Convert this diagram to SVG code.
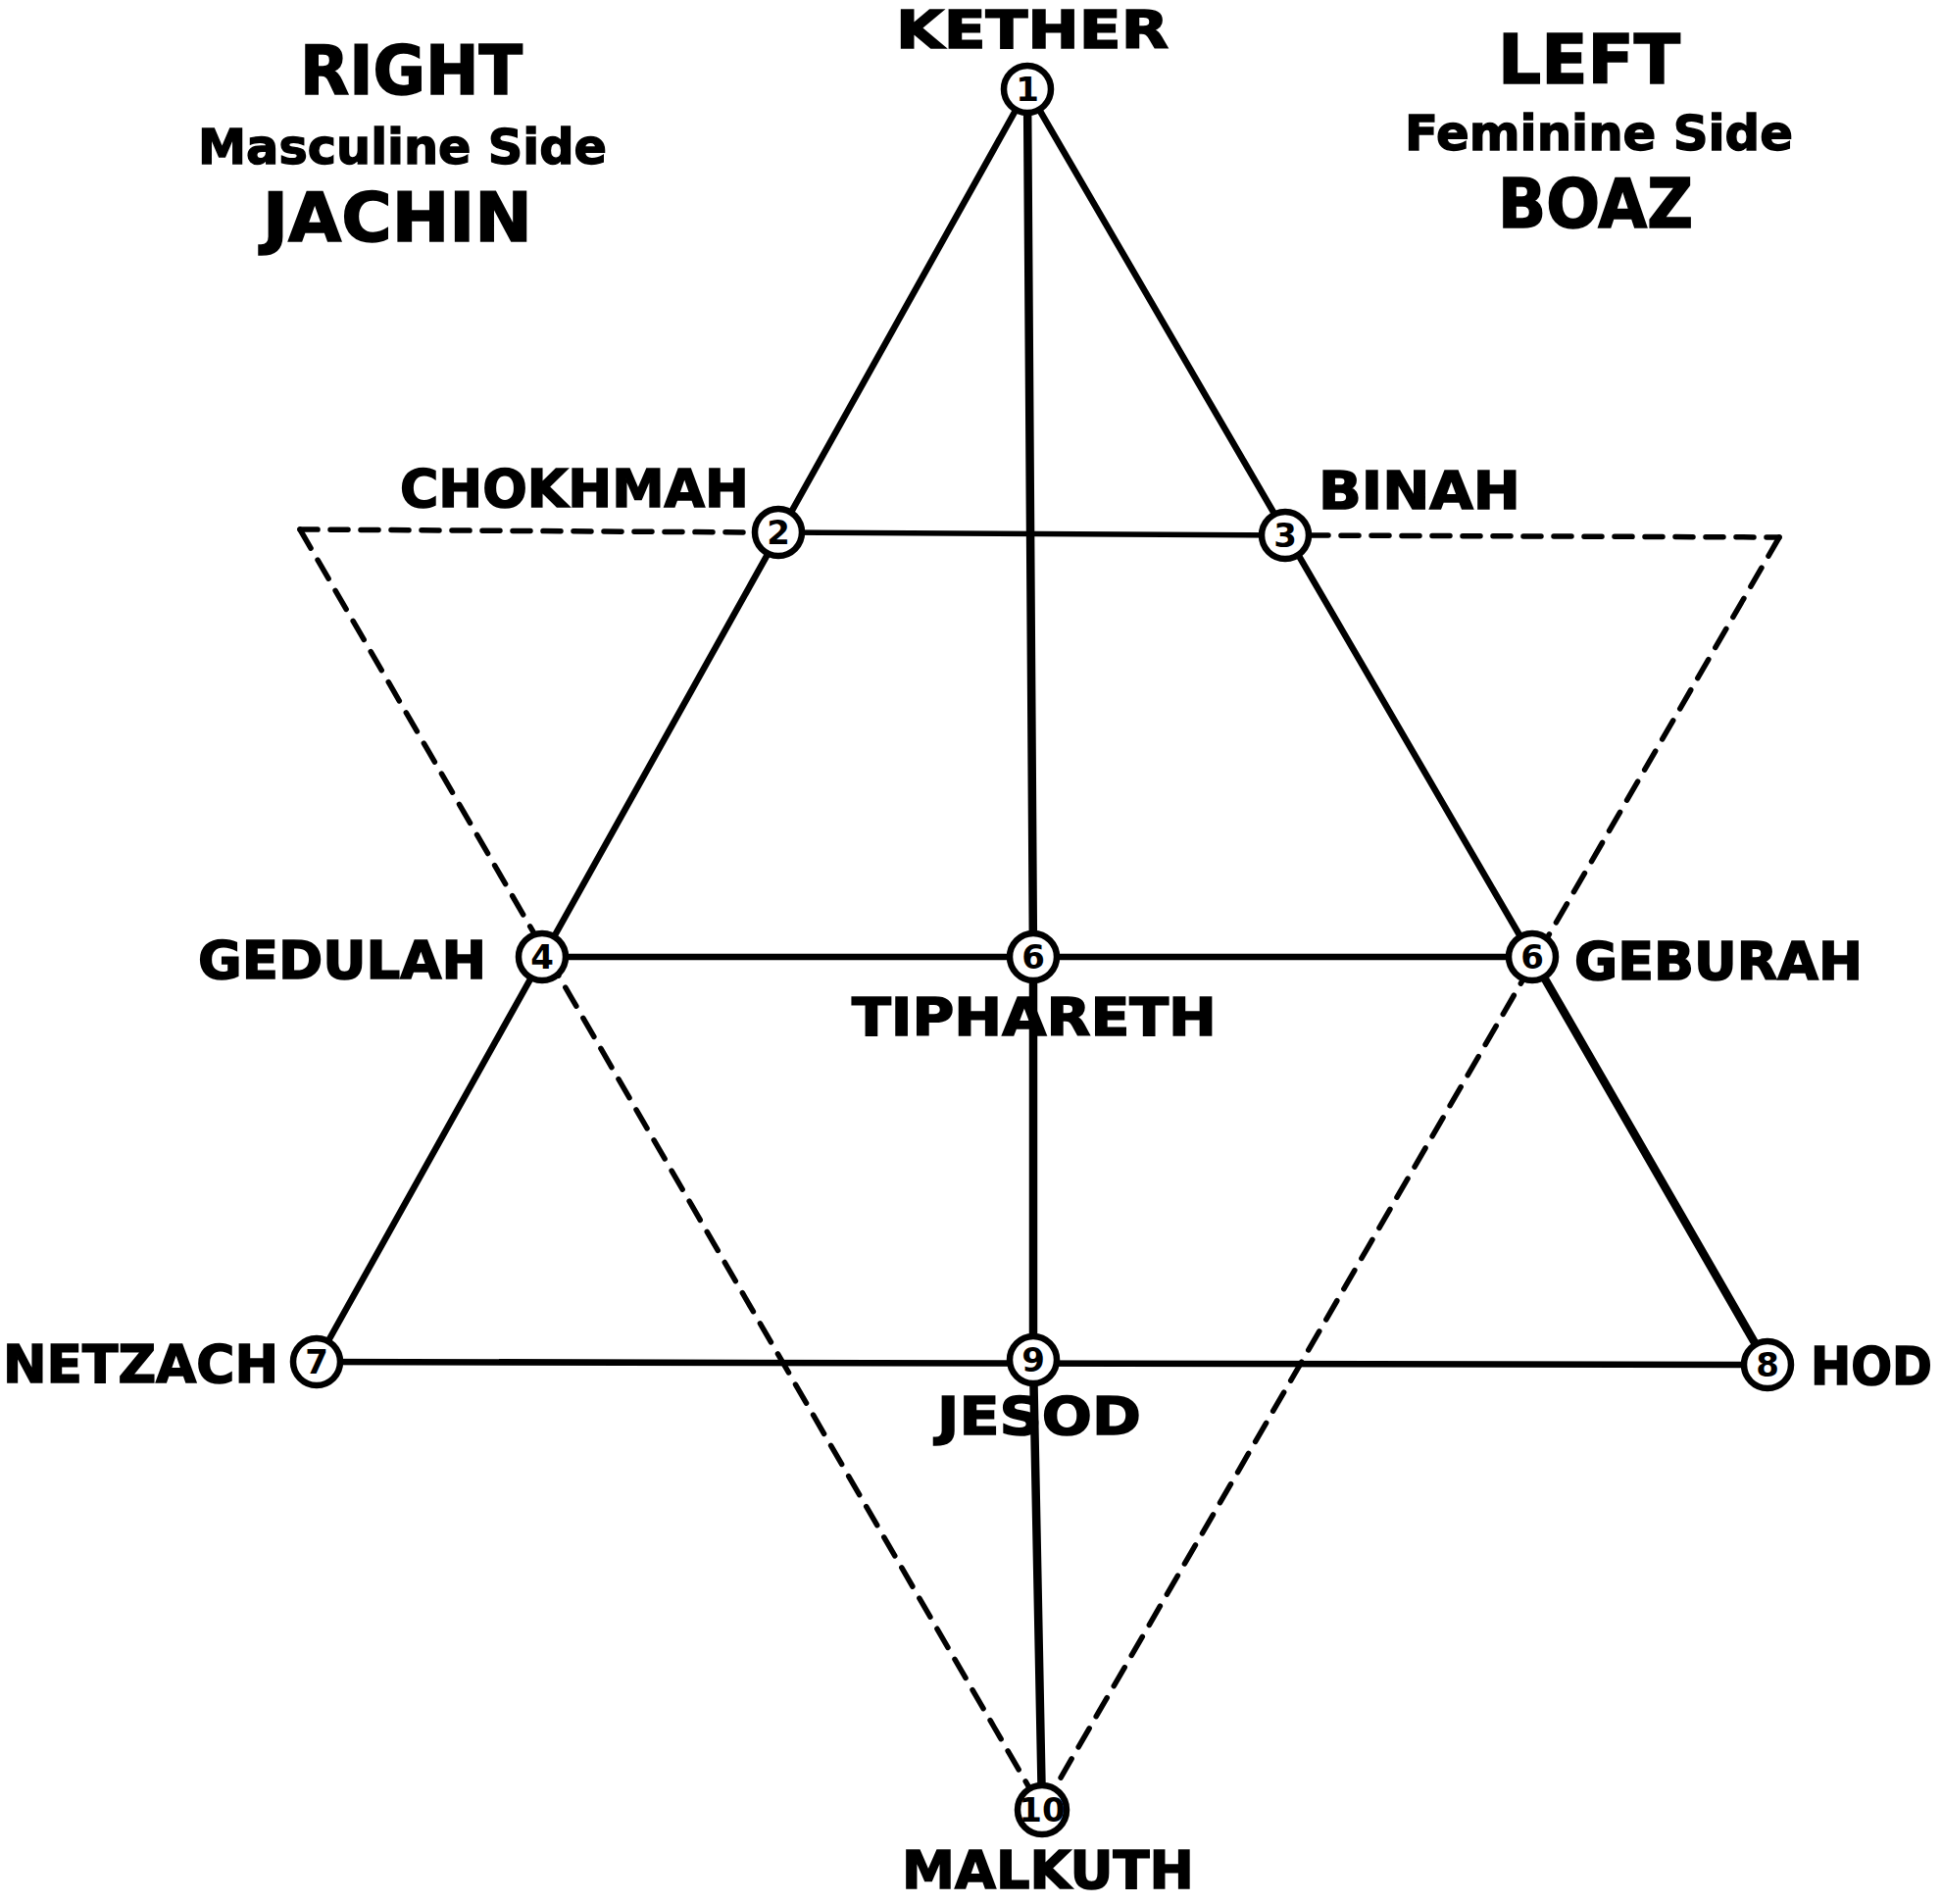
<svg xmlns="http://www.w3.org/2000/svg" width="1980" height="1942" viewBox="0 0 1980 1942">
<style>
.bg{fill:#fff}
.ln{stroke:#000;stroke-width:6.5;fill:none;stroke-linecap:round}
.thick{stroke-width:8.5}
.thin{stroke-width:5.5}
.dash{stroke:#000;stroke-width:5.5;fill:none;stroke-dasharray:22 14;stroke-linecap:round}
.dashh{stroke-dasharray:18 13}
.node circle{fill:#fff;stroke:#000;stroke-width:6.5}
.num{font-family:"DejaVu Sans","Liberation Sans",sans-serif;font-weight:bold;font-size:34px;text-anchor:middle;dominant-baseline:central}
.lbl{font-family:"DejaVu Sans","Liberation Sans",sans-serif;font-weight:bold;font-size:54px;stroke:#000;stroke-width:1.6}
.hd{font-family:"DejaVu Sans","Liberation Sans",sans-serif;font-weight:bold;font-size:70px;stroke:#000;stroke-width:1.6}
.sub{font-family:"DejaVu Sans","Liberation Sans",sans-serif;font-weight:bold;font-size:49px;stroke:#000;stroke-width:1.4}
</style>
<rect class="bg" x="0" y="0" width="1980" height="1942"/>
<g id="headers">
<text class="hd" x="306" y="96" textLength="227" lengthAdjust="spacingAndGlyphs">RIGHT</text>
<text class="sub" x="202" y="167" textLength="417" lengthAdjust="spacingAndGlyphs">Masculine Side</text>
<text class="hd" x="268" y="246" textLength="275" lengthAdjust="spacingAndGlyphs">JACHIN</text>
<text class="hd" x="1528" y="85" textLength="186" lengthAdjust="spacingAndGlyphs">LEFT</text>
<text class="sub" x="1433" y="153" textLength="396" lengthAdjust="spacingAndGlyphs">Feminine Side</text>
<text class="hd" x="1528" y="232" textLength="199" lengthAdjust="spacingAndGlyphs">BOAZ</text>
</g>
<g id="connectors">
<line class="dash dashh" x1="306" y1="540" x2="768" y2="543"/>
<line class="dash dashh" x1="1337" y1="546" x2="1815" y2="548"/>
<line class="dash" x1="306" y1="540" x2="1063" y2="1846"/>
<line class="dash" x1="1815" y1="548" x2="1063" y2="1846"/>
<line class="ln" x1="1048" y1="91" x2="323" y2="1389"/>
<line class="ln" x1="1048" y1="91" x2="1563" y2="976"/>
<line class="ln thick" x1="1563" y1="976" x2="1803" y2="1392"/>
<line class="ln thin" x1="794" y1="543" x2="1311" y2="546"/>
<line class="ln" x1="553" y1="976" x2="1563" y2="976"/>
<line class="ln" x1="323" y1="1389" x2="1803" y2="1392"/>
<polyline class="ln thick" points="1048,91 1054,976 1054,1387 1063,1846"/>
</g>
<g id="n1" class="node"><circle cx="1048" cy="91" r="24"/><text class="num" x="1048" y="91">1</text></g>
<g id="n2" class="node"><circle cx="794" cy="543" r="24"/><text class="num" x="794" y="543">2</text></g>
<g id="n3" class="node"><circle cx="1311" cy="546" r="24"/><text class="num" x="1311" y="546">3</text></g>
<g id="n4" class="node"><circle cx="553" cy="976" r="24"/><text class="num" x="553" y="976">4</text></g>
<g id="n6" class="node"><circle cx="1054" cy="976" r="24"/><text class="num" x="1054" y="976">6</text></g>
<g id="n6r" class="node"><circle cx="1563" cy="976" r="24"/><text class="num" x="1563" y="976">6</text></g>
<g id="n7" class="node"><circle cx="323" cy="1389" r="24"/><text class="num" x="323" y="1389">7</text></g>
<g id="n9" class="node"><circle cx="1054" cy="1387" r="24"/><text class="num" x="1054" y="1387">9</text></g>
<g id="n8" class="node"><circle cx="1803" cy="1392" r="24"/><text class="num" x="1803" y="1392">8</text></g>
<g id="n10" class="node"><circle cx="1063" cy="1846" r="25"/><text class="num" x="1063" y="1846" font-size="29">10</text></g>
<g id="labels">
<text class="lbl" x="914" y="49" textLength="278" lengthAdjust="spacingAndGlyphs">KETHER</text>
<text class="lbl" x="408" y="517" textLength="356" lengthAdjust="spacingAndGlyphs">CHOKHMAH</text>
<text class="lbl" x="1345" y="519" textLength="206" lengthAdjust="spacingAndGlyphs">BINAH</text>
<text class="lbl" x="202" y="998" textLength="294" lengthAdjust="spacingAndGlyphs">GEDULAH</text>
<text class="lbl" x="869" y="1056" textLength="372" lengthAdjust="spacingAndGlyphs">TIPHARETH</text>
<text class="lbl" x="1606" y="999" textLength="294" lengthAdjust="spacingAndGlyphs">GEBURAH</text>
<text class="lbl" x="3" y="1410" textLength="281" lengthAdjust="spacingAndGlyphs">NETZACH</text>
<text class="lbl" x="1847" y="1412" textLength="124" lengthAdjust="spacingAndGlyphs">HOD</text>
<text class="lbl" x="956" y="1463" textLength="208" lengthAdjust="spacingAndGlyphs">JESOD</text>
<text class="lbl" x="920" y="1926" font-size="50" textLength="298" lengthAdjust="spacingAndGlyphs">MALKUTH</text>
</g>
</svg>
